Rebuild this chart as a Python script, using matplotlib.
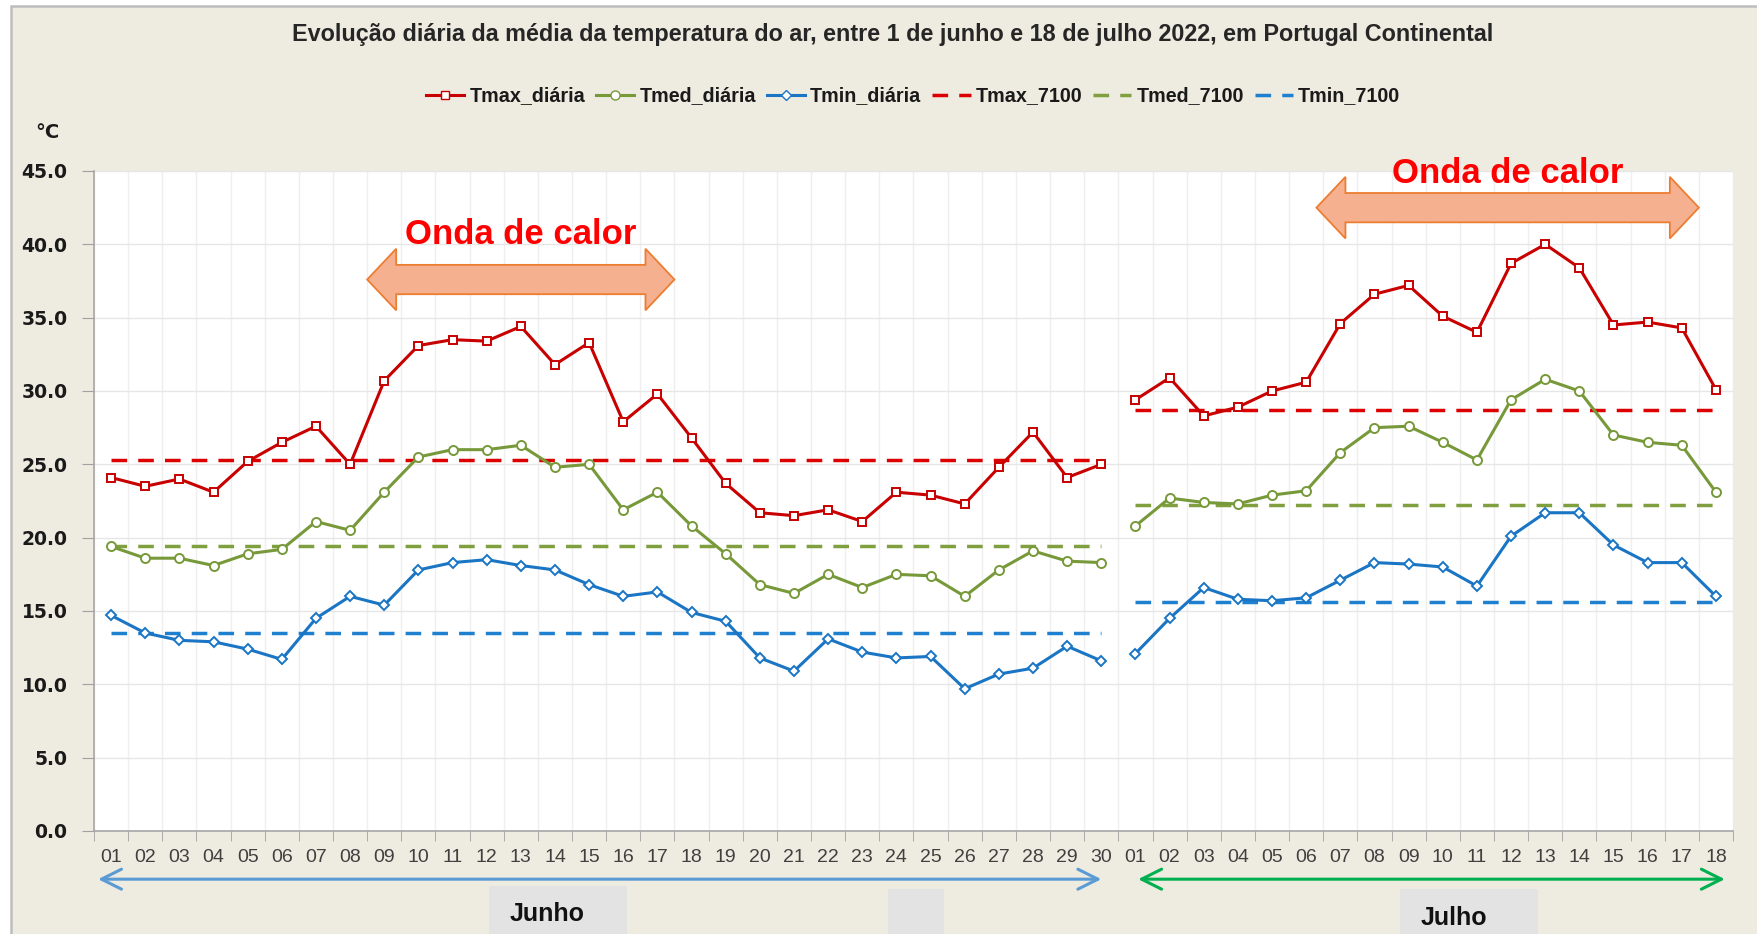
import numpy as np
import matplotlib
matplotlib.use("Agg")
import matplotlib.pyplot as plt
from matplotlib.patches import Polygon, Rectangle
from matplotlib.lines import Line2D

plt.rcParams["font.family"] = ["Liberation Sans", "DejaVu Sans"]

## Data ----------------------------------
june_days = [f"{d:02d}" for d in range(1, 31)]
july_days = [f"{d:02d}" for d in range(1, 19)]

tmax_jun = [24.1, 23.5, 24.0, 23.1, 25.2, 26.5, 27.6, 25.0, 30.7, 33.1,
            33.5, 33.4, 34.4, 31.8, 33.3, 27.9, 29.8, 26.8, 23.7, 21.7,
            21.5, 21.9, 21.1, 23.1, 22.9, 22.3, 24.8, 27.2, 24.1, 25.0]
tmed_jun = [19.4, 18.6, 18.6, 18.1, 18.9, 19.2, 21.1, 20.5, 23.1, 25.5,
            26.0, 26.0, 26.3, 24.8, 25.0, 21.9, 23.1, 20.8, 18.9, 16.8,
            16.2, 17.5, 16.6, 17.5, 17.4, 16.0, 17.8, 19.1, 18.4, 18.3]
tmin_jun = [14.7, 13.5, 13.0, 12.9, 12.4, 11.7, 14.5, 16.0, 15.4, 17.8,
            18.3, 18.5, 18.1, 17.8, 16.8, 16.0, 16.3, 14.9, 14.3, 11.8,
            10.9, 13.1, 12.2, 11.8, 11.9, 9.7, 10.7, 11.1, 12.6, 11.6]

tmax_jul = [29.4, 30.9, 28.3, 28.9, 30.0, 30.6, 34.6, 36.6, 37.2, 35.1,
            34.0, 38.7, 40.0, 38.4, 34.5, 34.7, 34.3, 30.1]
tmed_jul = [20.8, 22.7, 22.4, 22.3, 22.9, 23.2, 25.8, 27.5, 27.6, 26.5,
            25.3, 29.4, 30.8, 30.0, 27.0, 26.5, 26.3, 23.1]
tmin_jul = [12.1, 14.5, 16.6, 15.8, 15.7, 15.9, 17.1, 18.3, 18.2, 18.0,
            16.7, 20.1, 21.7, 21.7, 19.5, 18.3, 18.3, 16.0]

# 1971-2000 normals (June, July)
tmax_7100 = [25.3, 28.7]
tmed_7100 = [19.4, 22.2]
tmin_7100 = [13.5, 15.6]

# heat waves: start / end (day index), arrow centre and label height (°C)
wave_start = [7.5, 35.3]
wave_end = [16.5, 46.5]
wave_y = [37.6, 42.5]
wave_label_y = [40.0, 44.2]

title = ("Evolução diária da média da temperatura do ar, entre 1 de junho "
         "e 18 de julho 2022, em Portugal Continental")

## Styles ----------------------------------
C_MAX, C_MED, C_MIN = "#C80000", "#77993A", "#1A75C4"
C_MAX_N, C_MED_N, C_MIN_N = "#DD0000", "#80A040", "#1F80D0"
BG = "#EEEBE0"
W, H = 1758, 934


def double_arrow(x0, x1, yc, body=1.0, head=2.1, head_len=0.85):
    """Vertices of a fat double-headed arrow in data units."""
    return [(x0, yc), (x0 + head_len, yc + head), (x0 + head_len, yc + body),
            (x1 - head_len, yc + body), (x1 - head_len, yc + head), (x1, yc),
            (x1 - head_len, yc - head), (x1 - head_len, yc - body),
            (x0 + head_len, yc - body), (x0 + head_len, yc - head)]


## Figure ----------------------------------
fig = plt.figure(figsize=(W / 100, H / 100), dpi=100)
fig.patch.set_facecolor("white")
fig.patches.append(Rectangle((11 / W, -0.01), 1.0, 1.01 - 6 / H,
                             transform=fig.transFigure, facecolor=BG,
                             edgecolor="#BDBDBD", lw=1.8, zorder=-10))

ax = fig.add_axes([94 / W, 1 - 831 / H, (1733 - 94) / W, 660 / H])
ax.set_facecolor("white")

x_jun = np.arange(len(june_days))
x_jul = len(june_days) + np.arange(len(july_days))
n_all = len(june_days) + len(july_days)

# daily series
for xs, vals, c, m, ms in [
        (x_jun, tmax_jun, C_MAX, "s", 6.0), (x_jul, tmax_jul, C_MAX, "s", 6.0),
        (x_jun, tmed_jun, C_MED, "o", 6.5), (x_jul, tmed_jul, C_MED, "o", 6.5),
        (x_jun, tmin_jun, C_MIN, "D", 5.2), (x_jul, tmin_jul, C_MIN, "D", 5.2)]:
    ax.plot(xs, vals, color=c, lw=2.2, marker=m, ms=ms, mfc="white",
            mec=c, mew=1.4, zorder=4)

# normals
for k, xs in enumerate([x_jun, x_jul]):
    for vals, c in [(tmax_7100, C_MAX_N), (tmed_7100, C_MED_N), (tmin_7100, C_MIN_N)]:
        ax.plot([xs[0], xs[-1]], [vals[k], vals[k]], color=c, lw=2.5,
                dashes=(4.5, 3.2), zorder=3)

# axes
ax.set_xlim(-0.5, n_all - 0.5)
ax.set_ylim(0, 45)
ax.set_yticks(np.arange(0, 46, 5))
ax.set_yticklabels([f"{v:.1f}" for v in np.arange(0, 46, 5)],
                   family="DejaVu Sans", fontweight="bold", fontsize=13.5,
                   color="#1A1A1A")
ax.set_xticks(np.arange(n_all))
ax.set_xticklabels(june_days + july_days, fontsize=14, color="#404040")
ax.set_xticks(np.arange(-0.5, n_all, 1), minor=True)
ax.tick_params(axis="x", which="major", length=0, pad=13)
ax.tick_params(axis="x", which="minor", length=7, color="#A0A0A0")
ax.tick_params(axis="y", which="major", length=9, color="#A0A0A0", pad=10)
ax.grid(axis="x", which="minor", color="#EFEFEF", lw=1.0)
ax.grid(axis="y", which="major", color="#E6E6E6", lw=1.0)
ax.set_axisbelow(True)
for s in ["top", "right"]:
    ax.spines[s].set_visible(False)
for s in ["left", "bottom"]:
    ax.spines[s].set_color("#A6A6A6")
    ax.spines[s].set_linewidth(1.2)

# heat wave arrows ----------------------------------
for x0, x1, yc, yl in zip(wave_start, wave_end, wave_y, wave_label_y):
    ax.add_patch(Polygon(double_arrow(x0, x1, yc), closed=True,
                         facecolor="#F4B08F", edgecolor="#ED7D31", lw=1.3,
                         zorder=6, clip_on=False))
    ax.text((x0 + x1) / 2, yl, "Onda de calor", ha="center", va="baseline",
            color="#FF0000", fontsize=25, fontweight="bold", zorder=7,
            clip_on=False)

# month arrows ----------------------------------
for x0, x1, c in [(x_jun[0] - 0.38, x_jun[-1], "#5B9BD5"),
                  (x_jul[0] + 0.08, x_jul[-1] + 0.26, "#00B050")]:
    ax.annotate("", xy=(x1, -0.073), xytext=(x0, -0.073),
                xycoords=("data", "axes fraction"),
                textcoords=("data", "axes fraction"),
                arrowprops=dict(arrowstyle="<->", color=c, lw=2.2,
                                mutation_scale=36, shrinkA=0, shrinkB=0),
                annotation_clip=False)

# month labels on grey boxes
for x0, x1, y0 in [(489, 627, 886), (888, 944, 889), (1400, 1538, 889)]:
    fig.patches.append(Rectangle((x0 / W, 0), (x1 - x0) / W, (H - y0) / H,
                                 transform=fig.transFigure,
                                 facecolor="#E3E3E3", edgecolor="none"))
fig.text(547 / W, 1 - 914 / H, "Junho", ha="center", va="center",
         fontsize=18, fontweight="bold", color="#111111")
fig.text(1454 / W, 1 - 918 / H, "Julho", ha="center", va="center",
         fontsize=18, fontweight="bold", color="#111111")

# title, unit, legend ----------------------------------
fig.text(893 / W, 1 - 35 / H, title, ha="center", va="center",
         fontsize=16.8, fontweight="bold", color="#262626")
fig.text(47 / W, 1 - 132 / H, "°C", ha="center", va="center",
         family="DejaVu Sans", fontsize=14, fontweight="bold", color="#1A1A1A")

handles = [
    Line2D([], [], color=C_MAX, lw=2.2, marker="s", ms=6, mfc="white", mec=C_MAX),
    Line2D([], [], color=C_MED, lw=2.2, marker="o", ms=6.5, mfc="white", mec=C_MED),
    Line2D([], [], color=C_MIN, lw=2.2, marker="D", ms=5.2, mfc="white", mec=C_MIN),
    Line2D([], [], color=C_MAX_N, lw=2.5, dashes=(4.5, 3.2)),
    Line2D([], [], color=C_MED_N, lw=2.5, dashes=(4.5, 3.2)),
    Line2D([], [], color=C_MIN_N, lw=2.5, dashes=(4.5, 3.2)),
]
labels = ["Tmax_diária", "Tmed_diária", "Tmin_diária",
          "Tmax_7100", "Tmed_7100", "Tmin_7100"]
fig.legend(handles, labels, loc="center", bbox_to_anchor=(913 / W, 1 - 96 / H),
           ncol=6, frameon=False, prop=dict(weight="bold", size=14.2),
           handlelength=1.95, handletextpad=0.25, columnspacing=0.55,
           labelcolor="#1A1A1A")

fig.savefig("out.png", dpi=100, facecolor=fig.get_facecolor())
